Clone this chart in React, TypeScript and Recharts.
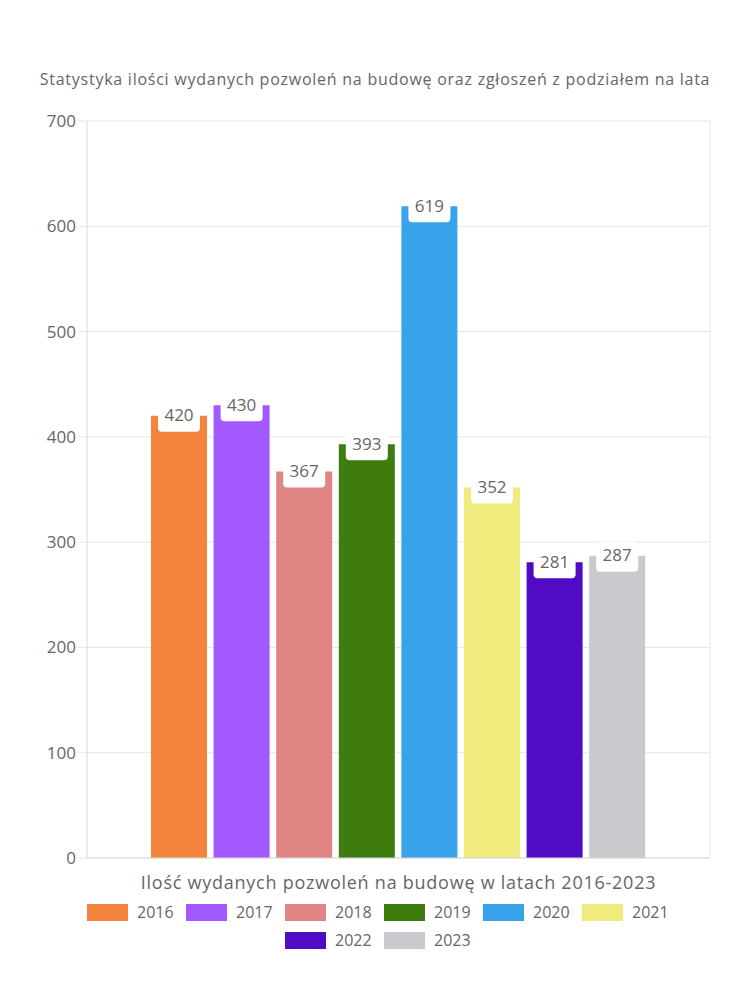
import { Bar, BarChart, CartesianGrid, LabelList, Legend, XAxis, YAxis } from "recharts";

const years = ["2016", "2017", "2018", "2019", "2020", "2021", "2022", "2023"];
const permits = [420, 430, 367, 393, 619, 352, 281, 287];
const yearColors = ["#F5843F", "#A259FF", "#E08484", "#3E7C0E", "#38A2EB", "#F0EB7D", "#520BC4", "#C9CACE"];
const yTicks = [0, 100, 200, 300, 400, 500, 600, 700];
const category = "Ilość wydanych pozwoleń na budowę w latach 2016-2023";
const title = "Statystyka ilości wydanych pozwoleń na budowę oraz zgłoszeń z podziałem na lata";

const FONT = "'Open Sans', Lato, sans-serif";
const TEXT = "#666";

const row: Record<string, string | number> = { name: category };
years.forEach((y, i) => (row[y] = permits[i]));
const data = [row];

// white tab that sits on the top edge of each bar, value centred on the edge
function ValueTab(props: any) {
  const { x, y, width, value } = props;
  const cx = x + width / 2;
  const w = 42;
  return (
    <g>
      <rect x={cx - w / 2} y={y - 14} width={w} height={30} rx={4} ry={4} fill="#fff" />
      <text x={cx} y={y - 1} textAnchor="middle" dominantBaseline="central" fontSize={17} fill={TEXT} fontFamily={FONT}>
        {value}
      </text>
    </g>
  );
}

function YearLegend() {
  return (
    <div
      style={{
        height: 60,
        paddingTop: 4,
        boxSizing: "border-box",
        display: "flex",
        flexWrap: "wrap",
        justifyContent: "center",
        columnGap: 12,
        width: 600,
        marginLeft: 78,
        fontFamily: FONT,
        fontSize: 16,
        color: TEXT,
      }}
    >
      {years.map((y, i) => (
        <div key={y} style={{ display: "flex", alignItems: "center", height: 28 }}>
          <span style={{ display: "inline-block", width: 41, height: 17, background: yearColors[i], marginRight: 9 }} />
          <span style={{ width: 37 }}>{y}</span>
        </div>
      ))}
    </div>
  );
}

export default function App() {
  return (
    <div style={{ position: "absolute", left: 0, top: 0, width: 750, height: 1000, background: "#fff" }}>
      <div
        style={{
          position: "absolute",
          top: 68,
          left: 0,
          width: 750,
          textAlign: "center",
          fontFamily: FONT,
          fontSize: 16,
          letterSpacing: 0.75,
          color: TEXT,
        }}
      >
        {title}
      </div>
      <BarChart
        width={750}
        height={1000}
        data={data}
        margin={{ top: 121, right: 40, bottom: 46, left: 0 }}
        barSize={56}
        barGap={6.6}
      >
        <CartesianGrid stroke="#e6e6e6" verticalPoints={[710]} />
        <XAxis
          dataKey="name"
          height={36}
          tickLine={false}
          stroke="#d9d9d9"
          tickMargin={12}
          tick={{ fill: TEXT, fontSize: 18, fontFamily: FONT, letterSpacing: 0.75 }}
        />
        <YAxis
          width={87}
          domain={[0, 700]}
          ticks={yTicks}
          stroke="#d9d9d9"
          tickSize={9}
          tickLine={{ stroke: "#e6e6e6" }}
          tick={{ fill: TEXT, fontSize: 17, fontFamily: FONT }}
        />
        <Legend verticalAlign="bottom" wrapperStyle={{ left: 0, width: 750 }} content={() => <YearLegend />} />
        {years.map((y, i) => (
          <Bar key={y} dataKey={y} fill={yearColors[i]} isAnimationActive={false}>
            <LabelList dataKey={y} content={ValueTab} />
          </Bar>
        ))}
      </BarChart>
    </div>
  );
}
